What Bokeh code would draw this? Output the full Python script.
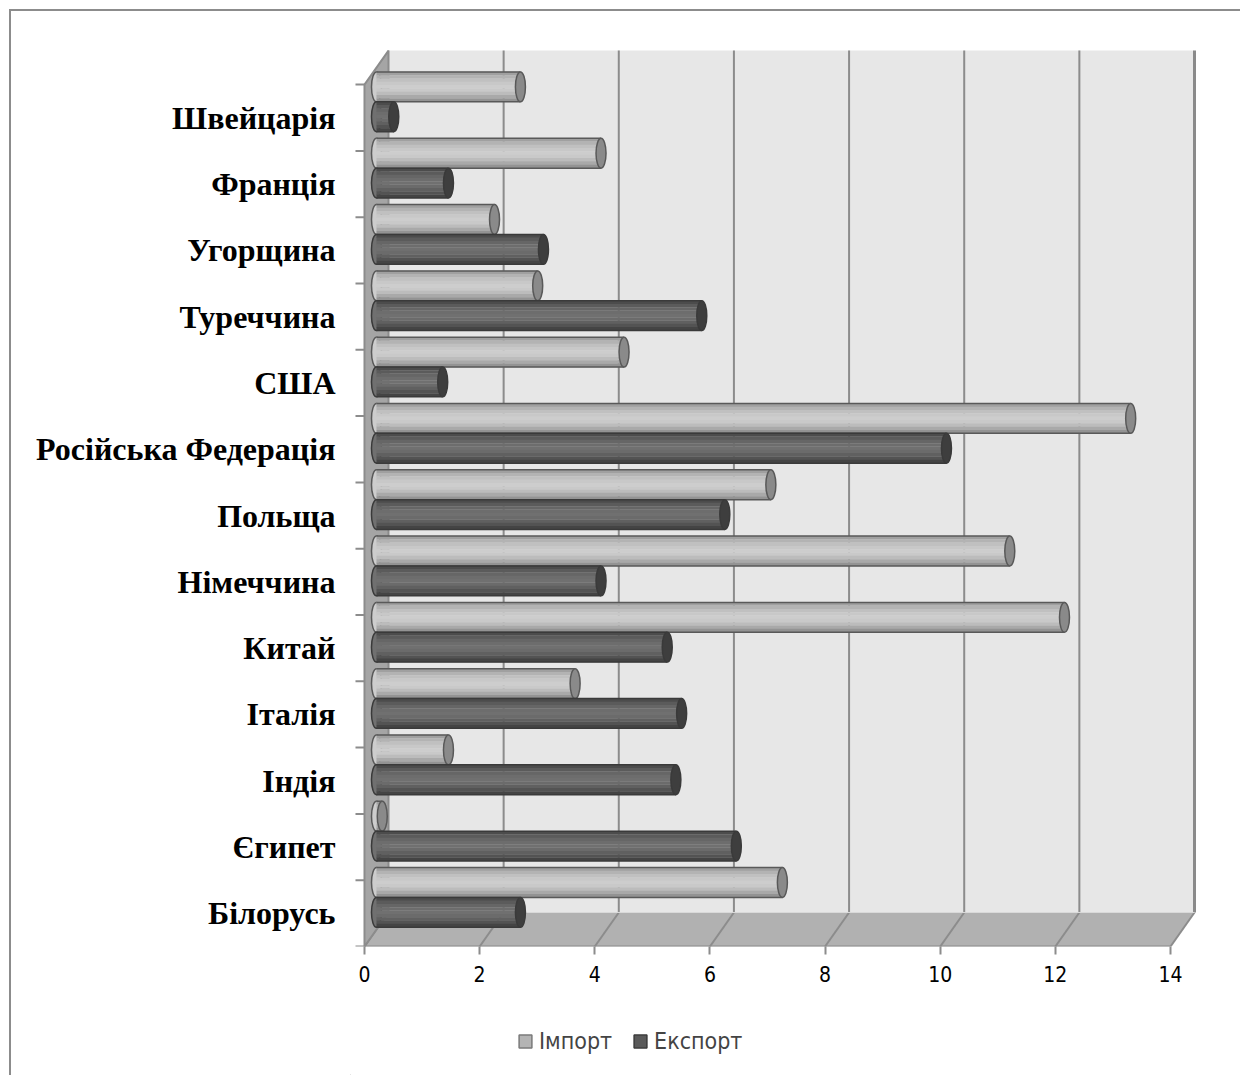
from bokeh.plotting import figure
from bokeh.layouts import column
from bokeh.models import FixedTicker, Legend, LegendItem
from bokeh.embed import file_html
from bokeh.resources import INLINE

# ---------------- data ----------------
categories = ["Швейцарія", "Франція", "Угорщина", "Туреччина", "США",
              "Російська Федерація", "Польща", "Німеччина", "Китай",
              "Італія", "Індія", "Єгипет", "Білорусь"]
imports = [2.5, 3.9, 2.05, 2.8, 4.3, 13.1, 6.85, 11.0, 11.95, 3.45, 1.25, 0.1, 7.05]
exports = [0.3, 1.25, 2.9, 5.65, 1.15, 9.9, 6.05, 3.9, 5.05, 5.3, 5.2, 6.25, 2.5]
x_ticks = [0, 2, 4, 6, 8, 10, 12, 14]
series_names = ["Імпорт", "Експорт"]

# ---------------- geometry (3D look) ----------------
n = len(categories)
XMAX = x_ticks[-1]
DX, DY = 0.417, 0.513        # depth offset (value units, category units)
BX, BY = DX / 2, 0.24        # bars sit at mid depth
BH = 0.45                    # bar thickness (category units)
yc = [n - 1 - i + 0.5 for i in range(n)]

p = figure(width=1229, height=994, output_backend="svg", toolbar_location=None,
           x_range=(-0.243, 14.608), y_range=(0, 13.665),
           min_border_left=339, min_border_right=35, min_border_top=29,
           min_border_bottom=59)
p.xgrid.visible = False
p.ygrid.visible = False
p.outline_line_color = None
p.background_fill_color = "white"
p.border_fill_color = "white"

GRID = "#8c8c8c"
# back wall
p.quad(left=DX, right=XMAX + DX, bottom=DY, top=n + DY, fill_color="#e7e7e7", line_color=None)
# back wall grid lines
gx = [v + DX for v in x_ticks[1:-1]]
p.segment(x0=gx, y0=[DY] * len(gx), x1=gx, y1=[n + DY] * len(gx), line_color=GRID, line_width=2)
p.segment(x0=[XMAX + DX], y0=[DY], x1=[XMAX + DX], y1=[n + DY], line_color="#8a8a8a", line_width=3)
# floor
p.patch(x=[0, XMAX, XMAX + DX, DX], y=[0, 0, DY, DY], fill_color="#b1b1b1", line_color=None)
p.segment(x0=x_ticks, y0=[0] * len(x_ticks), x1=[v + DX for v in x_ticks], y1=[DY] * len(x_ticks),
          line_color=GRID, line_width=2)
p.segment(x0=[DX], y0=[DY], x1=[XMAX + DX], y1=[DY], line_color="#d9d9d9", line_width=1)
p.segment(x0=[0], y0=[0], x1=[XMAX], y1=[0], line_color=GRID, line_width=2)
# left wall
p.patch(x=[0, 0, DX, DX], y=[0, n, n + DY, DY], fill_color="#a5a5a5", line_color=GRID, line_width=2)
# category boundary ticks
p.segment(x0=[-9 / 57.57] * (n + 1), y0=list(range(n + 1)), x1=[0] * (n + 1), y1=list(range(n + 1)),
          line_color=GRID, line_width=2)

# ---------------- cylinders ----------------
imp_cols = ["#a0a0a0", "#b3b3b3", "#c0c0c0", "#c8c8c8", "#cdcdcd", "#c9c9c9", "#bcbcbc", "#a9a9a9", "#939393"]
exp_cols = ["#4c4c4c", "#5b5b5b", "#666666", "#6d6d6d", "#707070", "#6b6b6b", "#606060", "#535353", "#444444"]


def cylinder(vals, centers, cols, cap_col, out_col):
    ns = len(cols)
    sh = BH / ns
    rights = [v + BX for v in vals]
    lefts = [BX] * len(vals)
    p.ellipse(x=lefts, y=centers, width=10, height=BH, width_units="screen",
              fill_color=cols[4], line_color=out_col, line_width=1.5)
    for k, c in enumerate(cols):
        ys = [y + BH / 2 - (k + 0.5) * sh for y in centers]
        p.hbar(y=ys, left=lefts, right=rights, height=sh * 1.08, fill_color=c, line_color=None)
    p.segment(x0=lefts, y0=[y + BH / 2 for y in centers], x1=rights, y1=[y + BH / 2 for y in centers],
              line_color=out_col, line_width=1.5)
    p.segment(x0=lefts, y0=[y - BH / 2 for y in centers], x1=rights, y1=[y - BH / 2 for y in centers],
              line_color=out_col, line_width=1.5)
    p.ellipse(x=rights, y=centers, width=10, height=BH, width_units="screen",
              fill_color=cap_col, line_color=out_col, line_width=1.5)


imp_c = [y + BY + BH / 2 for y in yc]
exp_c = [y + BY - BH / 2 for y in yc]
cylinder(imports, imp_c, imp_cols, "#8a8a8a", "#595959")
cylinder(exports, exp_c, exp_cols, "#3e3e3e", "#3a3a3a")

# ---------------- axes ----------------
SANS = "DejaVu Sans Condensed"
xa = p.xaxis[0]
xa.ticker = FixedTicker(ticks=x_ticks)
xa.axis_line_color = None
xa.major_tick_in = 0
xa.major_tick_out = 8
xa.major_tick_line_color = GRID
xa.major_tick_line_width = 2
xa.minor_tick_line_color = None
xa.major_label_standoff = 11
xa.major_label_text_font = SANS
xa.major_label_text_font_size = "21px"
xa.major_label_text_color = "black"

ya = p.yaxis[0]
ya.ticker = FixedTicker(ticks=yc)
ya.major_label_overrides = {y: c for y, c in zip(yc, categories)}
ya.axis_line_color = None
ya.major_tick_line_color = None
ya.major_tick_in = 0
ya.major_tick_out = 0
ya.minor_tick_line_color = None
ya.major_label_standoff = 15
ya.major_label_text_font = "Liberation Serif"
ya.major_label_text_font_style = "bold"
ya.major_label_text_font_size = "32px"
ya.major_label_text_color = "black"

# ---------------- legend (own strip below the chart) ----------------
pl = figure(width=1229, height=70, output_backend="svg", toolbar_location=None,
            x_range=(0, 1), y_range=(0, 1), min_border=0)
pl.axis.visible = False
pl.xgrid.visible = False
pl.ygrid.visible = False
pl.outline_line_color = None
r_imp = pl.hbar(y=[-100], left=[-100], right=[-100], height=0, fill_color="#b4b4b4",
                line_color="#7a7a7a", line_width=1.5)
r_exp = pl.hbar(y=[-100], left=[-100], right=[-100], height=0, fill_color="#5a5a5a",
                line_color="#3a3a3a", line_width=1.5)
legend = Legend(items=[LegendItem(label=series_names[0], renderers=[r_imp]),
                       LegendItem(label=series_names[1], renderers=[r_exp])],
                orientation="horizontal", location=(167, 21),
                glyph_width=16, glyph_height=16, label_standoff=6, spacing=20,
                label_text_font=SANS, label_text_font_size="23px",
                border_line_color=None, background_fill_alpha=0, margin=0, padding=0)
pl.add_layout(legend, "center")

page = column(p, pl, spacing=0)
page.margin = (9, 0, 0, 9)
page.styles = {"border-left": "2px solid #8c8c8c", "border-top": "2px solid #8c8c8c"}

open("out.html", "w").write(file_html(page, INLINE))
